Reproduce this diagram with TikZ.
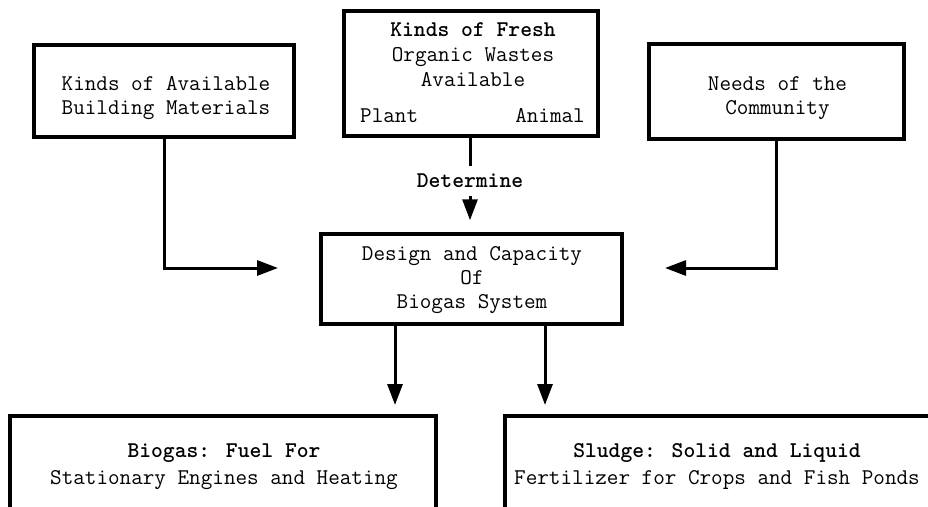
\documentclass[tikz,border=0pt]{standalone}
\usetikzlibrary{arrows.meta}
\begin{document}
\begin{tikzpicture}[x=1pt,y=-1pt,
  box/.style={draw,line width=3.5pt,inner sep=0pt},
  txt/.style={font=\ttfamily\fontsize{22.5}{24}\selectfont,align=center,inner sep=0pt},
  conn/.style={line width=3pt},
  arr/.style={line width=3pt,-{Triangle[length=21pt,width=15pt]}}]
\useasboundingbox (0,0) rectangle (928,506);
\clip (0,0) rectangle (928,506);
% boxes
\node[box,minimum width=260pt,minimum height=92pt] (b1) at (164,91) {};
\node[box,minimum width=254pt,minimum height=125pt] (b2) at (471,73.5) {};
\node[box,minimum width=255pt,minimum height=95pt] (b3) at (776.5,91.5) {};
\node[box,minimum width=301pt,minimum height=90pt] (c) at (471.5,279) {};
\node[box,minimum width=426pt,minimum height=150pt] (b4) at (223,491) {};
\node[box,minimum width=450pt,minimum height=150pt] (b5) at (730,491) {};
% texts
\node[txt] (t1) at (166,98) {Kinds of Available\\Building Materials};
\node[txt,font=\ttfamily\fontsize{22.5}{25}\selectfont] (t2) at (473,55) {{\bfseries Kinds of Fresh}\\Organic Wastes\\Available};
\node[txt,anchor=base west] (plant) at (360,122) {Plant};
\node[txt,anchor=base east] (animal) at (585,122) {Animal};
\node[txt] (t3) at (777.5,98.3) {Needs of the\\Community};
\node[txt] (tc) at (472,280) {Design and Capacity\\Of\\Biogas System};
\node[txt,font=\ttfamily\fontsize{22.5}{27}\selectfont] (t4) at (224,467) {{\bfseries Biogas: Fuel For}\\Stationary Engines and Heating};
\node[txt,font=\ttfamily\fontsize{22.5}{27}\selectfont] (t5) at (717,466.5) {{\bfseries Sludge: Solid and Liquid}\\Fertilizer for Crops and Fish Ponds};
\node[txt,font=\ttfamily\bfseries\fontsize{22.5}{24}\selectfont,inner sep=8pt] (det) at (470,181) {Determine};
% connector end points
\coordinate (la) at (278,268);
\coordinate (ra) at (665,268);
\coordinate (d1) at (395,405);
\coordinate (d2) at (545,405);
% connectors
\draw[arr] (b1.south) |- (la);
\draw[arr] (b3.south) |- (ra);
\draw[conn] (b2.south -| det) -- (det.north);
\draw[arr,shorten >=12pt] (det.south) -- (c.north -| det);
\draw[arr] (c.south -| d1) -- (d1);
\draw[arr] (c.south -| d2) -- (d2);
\end{tikzpicture}
\end{document}
